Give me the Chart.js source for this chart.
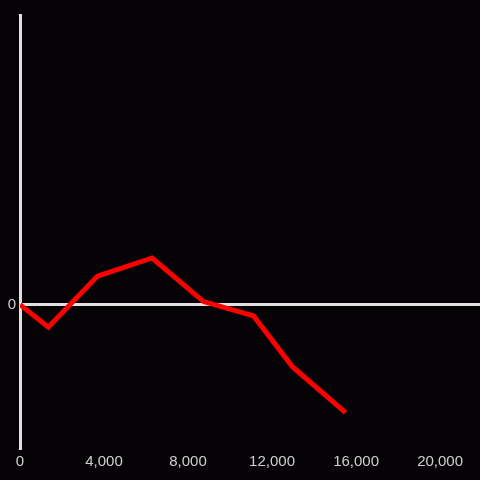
<!DOCTYPE html>
<html>
<head>
<meta charset="utf-8">
<script src="https://cdn.jsdelivr.net/npm/chart.js@4"></script>
<style>
  html, body { margin: 0; padding: 0; background: #050306; }
  #wrap { width: 480px; height: 480px; }
</style>
</head>
<body>
<div id="wrap"><canvas id="myCanvas" width="480" height="480"></canvas></div>
<script>
// values
const xValues = [0, 1350, 3690, 6290, 8740, 11120, 12980, 15500];
const yValues = [0, -0.156, 0.197, 0.322, 0.021, -0.078, -0.43, -0.745];
const xTicks = [0, 4000, 8000, 12000, 16000, 20000];

const points = xValues.map((x, i) => ({x: x, y: yValues[i]}));

const ctx = document.getElementById("myCanvas").getContext("2d");
new Chart(ctx, {
  type: 'line',
  data: {
    datasets: [{
      data: points,
      borderColor: '#ff0000',
      borderWidth: 5,
      pointRadius: 0,
      tension: 0,
      fill: false
    }]
  },
  options: {
    responsive: false,
    animation: false,
    layout: {padding: {top: 15, right: 0, left: 0, bottom: 0}},
    plugins: {legend: {display: false}, tooltip: {enabled: false}},
    scales: {
      x: {
        type: 'linear',
        min: 0,
        max: 21900,
        afterFit: (scale) => { scale.height = 32; },
        afterBuildTicks: (scale) => { scale.ticks = xTicks.map(v => ({value: v})); },
        ticks: {
          color: '#d0d0d0',
          font: {family: 'Liberation Sans', size: 15},
          padding: 5,
          maxRotation: 0,
          callback: (v) => v.toLocaleString('en-US')
        },
        grid: {display: false, drawTicks: false},
        border: {display: false}
      },
      y: {
        min: -0.99,
        max: 2,
        afterFit: (scale) => { scale.width = 20; },
        afterBuildTicks: (scale) => { scale.ticks = [{value: 0}]; },
        ticks: {
          color: '#d0d0d0',
          font: {family: 'Liberation Sans', size: 15},
          padding: 4
        },
        grid: {
          color: '#e0e0e0',
          lineWidth: 3,
          drawTicks: false
        },
        border: {display: true, color: '#e0e0e0', width: 3}
      }
    }
  }
});
</script>
</body>
</html>
